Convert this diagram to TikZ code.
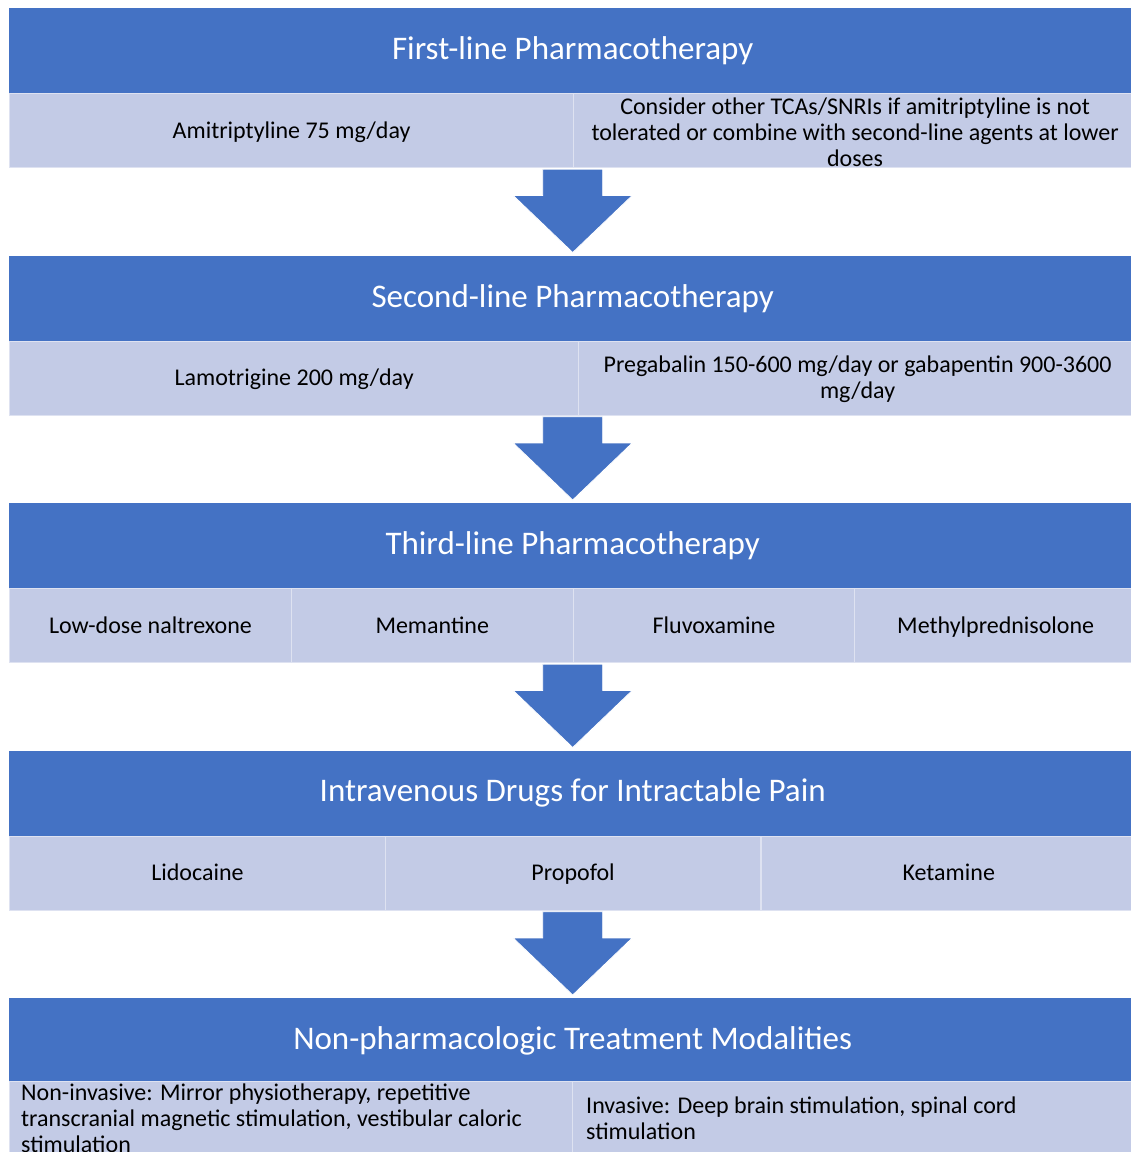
\documentclass[tikz,border=0pt]{standalone}
\usepackage{fontspec}
\setmainfont{Carlito}
\usetikzlibrary{calc}

\definecolor{hdrblue}{HTML}{4472C4}
\definecolor{cellfill}{HTML}{C3CBE6}
\colorlet{cellline}{white!45!cellfill}

\tikzset{
    hdr/.style={rectangle, fill=hdrblue, text=white, inner sep=0pt,
        font=\fontsize{33}{36}\selectfont,
        minimum width=1127pt, minimum height=85pt, anchor=north west},
    cell/.style={rectangle, fill=cellfill, draw=cellline, line width=1.2pt,
        inner sep=0pt, minimum height=74pt, anchor=north west},
    celltext/.style={font=\fontsize{24}{26}\selectfont, align=center, inner sep=0pt},
    onetext/.style={celltext, text height=18pt, text depth=6pt, yshift=-1.5pt},
    flowarrow/.style={fill=hdrblue, draw=white, line width=0.8pt}
}

\begin{document}
\begin{tikzpicture}[x=1pt, y=-1pt]
    \useasboundingbox (0,0) rectangle (1131,1152);
    \clip (0,0) rectangle (1131,1152);

    % first line
    \node[hdr] (h1) at (9,8) {First-line Pharmacotherapy};
    \node[cell, minimum width=564pt] (r1-1) at (9,93) {};
    \node[cell, minimum width=563pt] (r1-2) at (573,93) {};
    \node[onetext] (t1-1) at (r1-1.center) {Amitriptyline 75 mg/day};
    \node[celltext, yshift=-1.5pt] (t1-2) at (r1-2.center) {Consider other TCAs/SNRIs if amitriptyline is not\\
        tolerated or combine with second-line agents at lower\\doses};

    % second line
    \node[hdr] (h2) at (9,255.5) {Second-line Pharmacotherapy};
    \node[cell, minimum width=569pt] (r2-1) at (9,340.5) {};
    \node[cell, minimum width=558pt] (r2-2) at (578,340.5) {};
    \node[onetext] (t2-1) at (r2-1.center) {Lamotrigine 200 mg/day};
    \node[celltext, yshift=-1.5pt] (t2-2) at (r2-2.center) {Pregabalin 150-600 mg/day or gabapentin 900-3600\\mg/day};

    % third line
    \node[hdr] (h3) at (9,503) {Third-line Pharmacotherapy};
    \node[cell, minimum width=281.75pt] (r3-1) at (9,588) {};
    \node[cell, minimum width=281.75pt] (r3-2) at (290.75,588) {};
    \node[cell, minimum width=281.75pt] (r3-3) at (572.5,588) {};
    \node[cell, minimum width=281.75pt] (r3-4) at (854.25,588) {};
    \node[onetext] (t3-1) at (r3-1.center) {Low-dose naltrexone};
    \node[onetext] (t3-2) at (r3-2.center) {Memantine};
    \node[onetext] (t3-3) at (r3-3.center) {Fluvoxamine};
    \node[onetext] (t3-4) at (r3-4.center) {Methylprednisolone};

    % intravenous
    \node[hdr] (h4) at (9,750.5) {Intravenous Drugs for Intractable Pain};
    \node[cell, minimum width=375.67pt] (r4-1) at (9,835.5) {};
    \node[cell, minimum width=375.67pt] (r4-2) at (384.67,835.5) {};
    \node[cell, minimum width=375.67pt] (r4-3) at (760.33,835.5) {};
    \node[onetext] (t4-1) at (r4-1.center) {Lidocaine};
    \node[onetext] (t4-2) at (r4-2.center) {Propofol};
    \node[onetext] (t4-3) at (r4-3.center) {Ketamine};

    % non-pharmacologic
    \node[hdr] (h5) at (9,998) {Non-pharmacologic Treatment Modalities};
    \node[cell, minimum width=563pt] (r5-1) at (9,1081) {};
    \node[cell, minimum width=564pt] (r5-2) at (572,1081) {};
    \node[celltext, align=left, anchor=west] (t5-1) at ($(r5-1.west)+(12,0)$)
        {Non-invasive: Mirror physiotherapy, repetitive\\
        transcranial magnetic stimulation, vestibular caloric\\stimulation};
    \node[celltext, align=left, anchor=west] (t5-2) at ($(r5-2.west)+(14,0)$)
        {Invasive: Deep brain stimulation, spinal cord\\stimulation};

    % block arrows between the levels
    \foreach \i/\j in {1/2,2/3,3/4,4/5}{
        \path (h\i.south |- r\i-1.south) coordinate (s)
              (h\j.north) coordinate (t);
        \filldraw[flowarrow] ($(s)+(-30,1)$) -- ($(t)+(-30,-60)$)
            -- ($(t)+(-59.5,-60)$) -- ($(t)+(0,-3)$) -- ($(t)+(59.5,-60)$)
            -- ($(t)+(30,-60)$) -- ($(s)+(30,1)$) -- cycle;
    }
\end{tikzpicture}
\end{document}
